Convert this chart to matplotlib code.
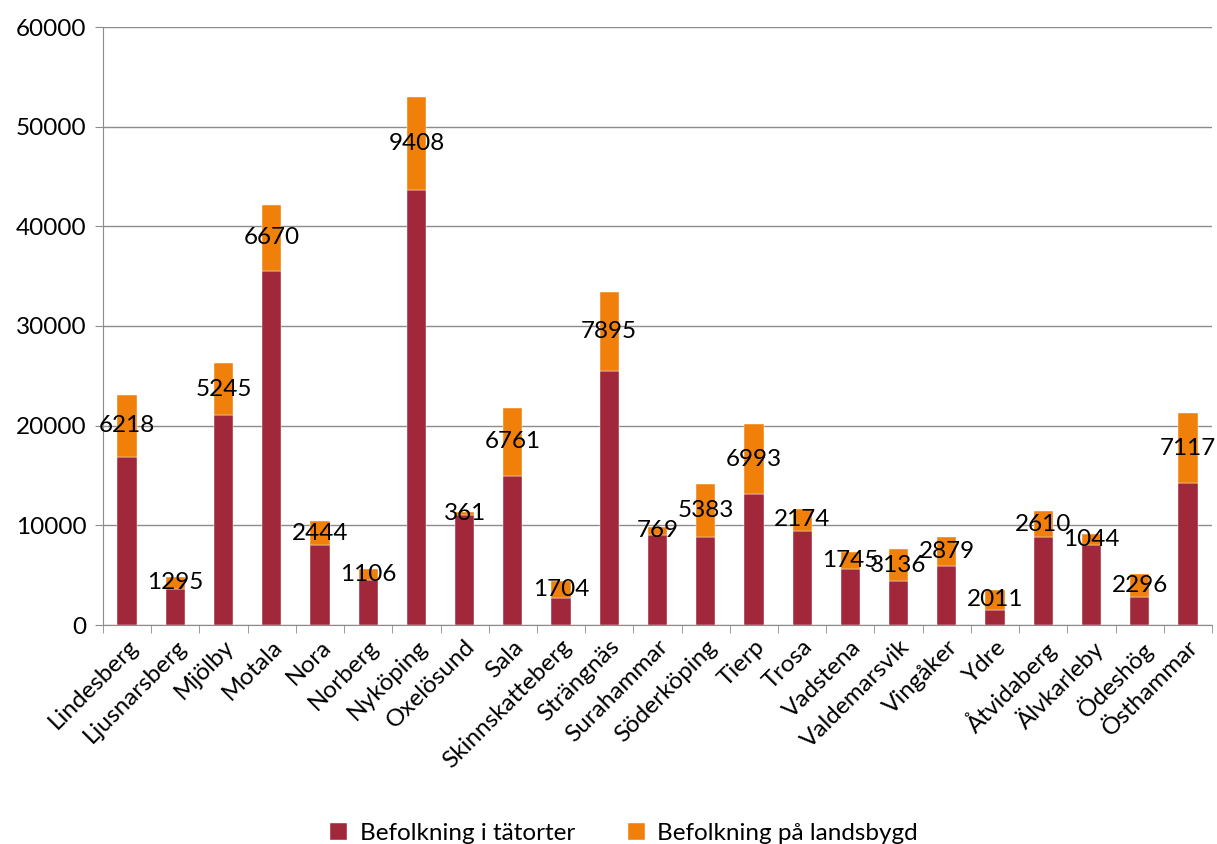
import numpy as np
import matplotlib
matplotlib.use("Agg")
import matplotlib.pyplot as plt
from matplotlib.ticker import MultipleLocator

kommuner = ["Lindesberg", "Ljusnarsberg", "Mjölby", "Motala", "Nora", "Norberg",
            "Nyköping", "Oxelösund", "Sala", "Skinnskatteberg", "Strängnäs",
            "Surahammar", "Söderköping", "Tierp", "Trosa", "Vadstena",
            "Valdemarsvik", "Vingåker", "Ydre", "Åtvidaberg", "Älvkarleby",
            "Ödeshög", "Östhammar"]
tatorter = [16900, 3570, 21050, 35500, 7980, 4520, 43610, 11000, 15000, 2690,
            25470, 9070, 8780, 13150, 9465, 5600, 4440, 5950, 1550, 8810,
            8055, 2850, 14200]
landsbygd = [6218, 1295, 5245, 6670, 2444, 1106, 9408, 361, 6761, 1704,
             7895, 769, 5383, 6993, 2174, 1745, 3136, 2879, 2011, 2610,
             1044, 2296, 7117]

plt.rcParams["font.family"] = ["Lato", "DejaVu Sans"]
fs = 17.5

fig = plt.figure(figsize=(12.17, 8.44), dpi=100)
ax = fig.add_axes([103 / 1217, 1 - 625 / 844, (1212 - 103) / 1217, (625 - 27) / 844])

x = np.arange(len(kommuner))
red = "#A1283A"
orange = "#F0800A"
ax.bar(x, tatorter, width=0.4, color=red, edgecolor="white", linewidth=0.3,
       label="Befolkning i tätorter", zorder=3)
ax.bar(x, landsbygd, width=0.4, bottom=tatorter, color=orange,
       edgecolor="white", linewidth=0.3, label="Befolkning på landsbygd", zorder=3)

# etiketter mitt i den orange delen
for xi, t, l in zip(x, tatorter, landsbygd):
    ax.text(xi, t + l / 2, str(l), ha="center", va="center", fontsize=fs,
            color="black", zorder=4)

ax.set_xlim(-0.5, len(kommuner) - 0.5)
ax.set_ylim(0, 60000)
ax.yaxis.set_major_locator(MultipleLocator(10000))
ax.grid(axis="y", color="#8c8c8c", linewidth=1, zorder=0)

ax.set_xticks(x)
ax.set_xticklabels(kommuner, rotation=45, ha="right", rotation_mode="anchor",
                   fontsize=fs)
ax.set_xticks(np.arange(-0.5, len(kommuner)), minor=True)
ax.tick_params(axis="x", which="major", length=0, pad=8)
ax.tick_params(axis="x", which="minor", length=6, color="#8c8c8c")
ax.tick_params(axis="y", length=6, color="#8c8c8c", labelsize=fs, pad=6)

for side in ["top", "right"]:
    ax.spines[side].set_visible(False)
for side in ["left", "bottom"]:
    ax.spines[side].set_color("#8c8c8c")

ax.legend(loc="lower center", bbox_to_anchor=(0.47, -0.402), ncol=2, frameon=False,
          fontsize=fs, handlelength=0.7, handleheight=0.7, handletextpad=0.5,
          columnspacing=2.2)

plt.savefig("out.png", dpi=100)
plt.close(fig)
